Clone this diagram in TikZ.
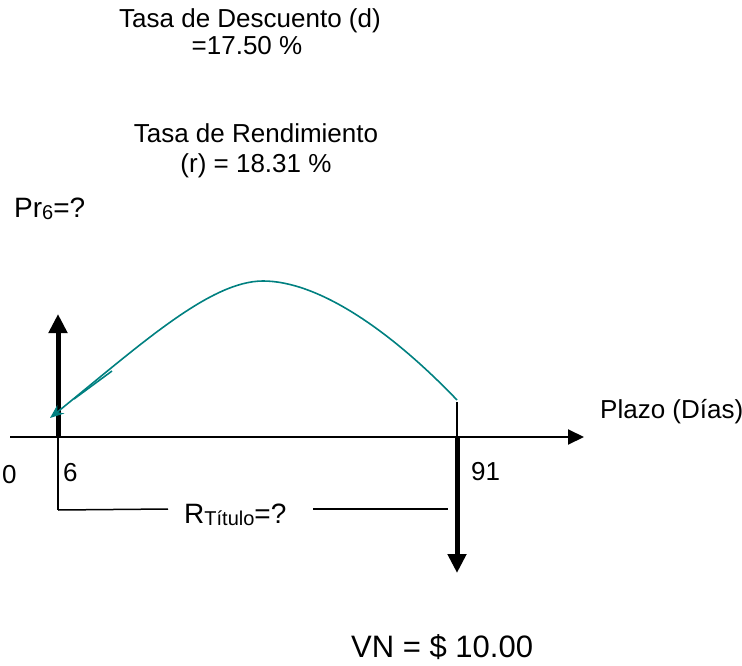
\documentclass[tikz,border=0pt]{standalone}
\usepackage{fontspec}
\setmainfont{Liberation Sans}
\usetikzlibrary{arrows.meta}
\definecolor{tealc}{RGB}{0,128,128}
\begin{document}
\begin{tikzpicture}[x=1pt,y=-1pt,
  lbl/.style={inner sep=0pt,font=\fontsize{26}{30}\selectfont},
  biglbl/.style={inner sep=0pt,font=\fontsize{28}{32}\selectfont},
  thick arrow/.style={line width=5pt,-{Triangle[length=19pt,width=18pt]}},
  axisline/.style={line width=2pt,-{Triangle[length=16pt,width=15pt]}},
  thinline/.style={line width=1.5pt},
  flow/.style={tealc,line width=1.6pt}]
\useasboundingbox (0,0) rectangle (742,666);
% coordinates
\coordinate (ax0) at (10,437);
\coordinate (ax1) at (584,437);
\coordinate (p6) at (58,437);
\coordinate (p6top) at (58,314);
\coordinate (p6bot) at (58,510);
\coordinate (p91) at (457,437);
\coordinate (p91bot) at (457,573);
\coordinate (p91top) at (457,402);
\coordinate (cstart) at (457,400);
\coordinate (cpeak) at (263,281);
\coordinate (cend) at (50,418);
\coordinate (ex0) at (112,371);
\coordinate (ex1) at (74,399);
\coordinate (b1) at (168,509);
\coordinate (b2) at (313,509);
\coordinate (b3) at (448,509);
% texts
\node[lbl,anchor=base] (t1) at (250,28) {Tasa de Descuento (d)};
\node[lbl,anchor=base] (t2) at (247,55) {=17.50 \%};
\node[lbl,anchor=base] (t3) at (256,143) {Tasa de Rendimiento};
\node[lbl,anchor=base] (t4) at (256,172) {(r) = 18.31 \%};
\node[biglbl,anchor=base west] (pr) at (14,217) {Pr{\fontsize{20}{22}\selectfont\raisebox{-2pt}{6}}=?};
\node[lbl,anchor=base west] (plazo) at (600,418) {Plazo (Días)};
\node[lbl,anchor=base west] (l0) at (2,483) {0};
\node[lbl,anchor=base west] (l6) at (63,481) {6};
\node[lbl,anchor=base west] (l91) at (471,480) {91};
\node[biglbl,anchor=base west] (rt) at (184,523) {R{\fontsize{20}{22}\selectfont\raisebox{-2pt}{Título}}=?};
\node[inner sep=0pt,anchor=base west,font=\fontsize{31}{36}\selectfont] (vn) at (351,657) {VN = \$ 10.00};
% axis
\draw[axisline] (ax0) -- (ax1);
% cash flows
\draw[thick arrow] (p6) -- (p6top);
\draw[thick arrow] (p91) -- (p91bot);
\draw[thinline] (p6) -- (p6bot);
\draw[thinline] (p91top) -- (p91);
% bracket lines
\draw[thinline] (p6bot) -- (b1);
\draw[thinline] (b2) -- (b3);
% curve
\draw[flow,-{Stealth[length=14pt,width=11pt]}] (cstart) .. controls (390,330) and (318,281) .. (cpeak)
  .. controls (210,281) and (140,345) .. (cend);
\draw[flow] (ex0) -- (ex1);
\end{tikzpicture}
\end{document}
